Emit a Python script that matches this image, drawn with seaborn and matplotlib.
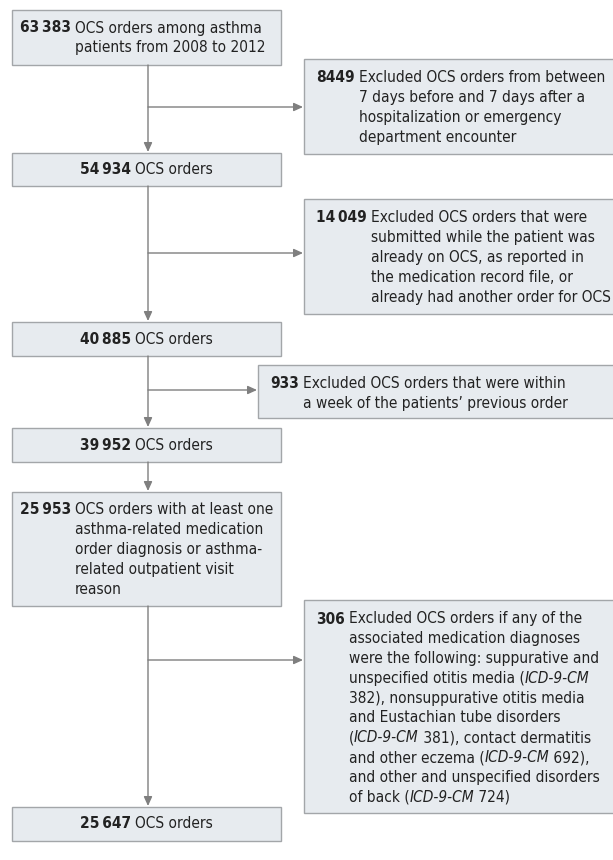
import matplotlib
matplotlib.use('Agg')
import matplotlib.pyplot as plt
import seaborn as sns
from matplotlib.patches import Rectangle

# counts and labels of the main flow
main_counts = ['63\u2009383', '54\u2009934', '40\u2009885', '39\u2009952', '25\u2009953', '25\u2009647']
main_texts = [
    ['OCS orders among asthma', 'patients from 2008 to 2012'],
    ['OCS orders'],
    ['OCS orders'],
    ['OCS orders'],
    ['OCS orders with at least one', 'asthma-related medication',
     'order diagnosis or asthma-', 'related outpatient visit', 'reason'],
    ['OCS orders'],
]

# exclusions (text between * is italic)
excl_counts = ['8449', '14\u2009049', '933', '306']
excl_texts = [
    ['Excluded OCS orders from between', '7 days before and 7 days after a',
     'hospitalization or emergency', 'department encounter'],
    ['Excluded OCS orders that were', 'submitted while the patient was',
     'already on OCS, as reported in', 'the medication record file, or',
     'already had another order for OCS'],
    ['Excluded OCS orders that were within', 'a week of the patients\u2019 previous order'],
    ['Excluded OCS orders if any of the', 'associated medication diagnoses',
     'were the following: suppurative and', 'unspecified otitis media (*ICD-9-CM*',
     '382), nonsuppurative otitis media', 'and Eustachian tube disorders',
     '(*ICD-9-CM* 381), contact dermatitis', 'and other eczema (*ICD-9-CM* 692),',
     'and other and unspecified disorders', 'of back (*ICD-9-CM* 724)'],
]

# layout in pixels
main_boxes = [(10, 65), (153, 186), (322, 356), (428, 462), (492, 606), (807, 841)]
main_x0, main_x1 = 12, 281
excl_boxes = [(304, 59, 154), (304, 199, 314), (258, 365, 418), (304, 600, 813)]
excl_arrow_y = [107, 253, 390, 660]
stem_x = 148

FILL = '#e7ebef'
EDGE = '#a3a6a9'
LINE = '#7f7f7f'
FS = 11.1
LH = 19.8
GAP = 4

sns.set_style('white')
plt.rcParams['font.family'] = ['DejaVu Sans']
plt.rcParams['font.stretch'] = 'condensed'

fig = plt.figure(figsize=(6.13, 8.6), dpi=100)
ax = fig.add_axes([0, 0, 1, 1])
ax.set_xlim(0, 613)
ax.set_ylim(860, 0)
ax.axis('off')
renderer = fig.canvas.get_renderer()


def text_width(s, **kw):
    t = ax.text(0, 0, s, fontsize=FS, **kw)
    bb = t.get_window_extent(renderer)
    t.remove()
    return bb.width  # 1 px == 1 data unit here


def draw_line(x, y, line):
    parts = line.split('*')
    for i, p in enumerate(parts):
        if not p:
            continue
        style = 'italic' if i % 2 else 'normal'
        ax.text(x, y, p, fontsize=FS, fontstyle=style, va='center', ha='left', color='#222222')
        x += text_width(p, fontstyle=style)
    return x


def draw_block(x, ytop, count, lines):
    ax.text(x, ytop, count, fontsize=FS, fontweight='bold', va='center', ha='left', color='#222222')
    tx = x + text_width(count, fontweight='bold') + GAP
    for k, ln in enumerate(lines):
        draw_line(tx, ytop + k * LH, ln)


def box(x0, y0, x1, y1):
    ax.add_patch(Rectangle((x0, y0), x1 - x0, y1 - y0, facecolor=FILL, edgecolor=EDGE, lw=1.0))


def arrow(x0, y0, x1, y1):
    ax.annotate('', xy=(x1, y1), xytext=(x0, y0),
                arrowprops=dict(arrowstyle='-|>,head_length=0.55,head_width=0.25',
                                color=LINE, lw=1.0, shrinkA=0, shrinkB=0))


# vertical stems
for (a0, a1), (b0, b1) in zip(main_boxes[:-1], main_boxes[1:]):
    arrow(stem_x, a1, stem_x, b0 - 1)

# horizontal arrows to exclusion boxes
for (ex0, ey0, ey1), ay in zip(excl_boxes, excl_arrow_y):
    arrow(stem_x, ay, ex0 - 1, ay)

# main boxes
for (y0, y1), cnt, lines in zip(main_boxes, main_counts, main_texts):
    box(main_x0, y0, main_x1, y1)
    if len(lines) == 1:
        w = text_width(cnt, fontweight='bold') + GAP + text_width(lines[0])
        draw_block((main_x0 + main_x1) / 2 - w / 2, (y0 + y1) / 2, cnt, lines)
    else:
        draw_block(main_x0 + 8, y0 + 18, cnt, lines)

# exclusion boxes
for (ex0, ey0, ey1), cnt, lines in zip(excl_boxes, excl_counts, excl_texts):
    box(ex0, ey0, 640, ey1)
    draw_block(ex0 + 12, ey0 + 19, cnt, lines)

fig.savefig('out.png', dpi=100)
